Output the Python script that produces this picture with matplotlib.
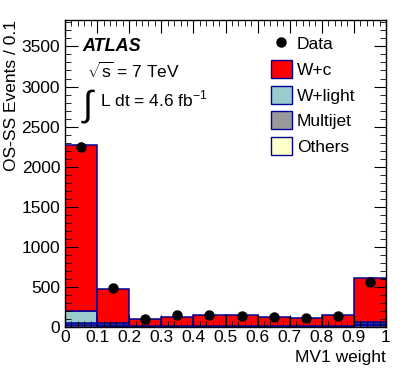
import matplotlib
matplotlib.use('Agg')
import matplotlib.pyplot as plt
from matplotlib.patches import Patch
from matplotlib.lines import Line2D
from matplotlib.ticker import MultipleLocator
import numpy as np

plt.rcParams['font.family'] = ['Liberation Sans', 'DejaVu Sans']
plt.rcParams['mathtext.fontset'] = 'custom'
plt.rcParams['mathtext.rm'] = 'Liberation Sans'

# MV1 weight bins
bin_lo = [0.0, 0.1, 0.2, 0.3, 0.4, 0.5, 0.6, 0.7, 0.8, 0.9]
others = [30, 15, 4, 4, 4, 4, 4, 4, 4, 20]
multijet = [25, 10, 3, 3, 3, 3, 3, 3, 3, 15]
wlight = [150, 25, 5, 6, 6, 6, 5, 5, 6, 30]
wc = [2060, 420, 88, 117, 132, 132, 113, 100, 132, 550]
data = [2250, 485, 105, 150, 145, 140, 125, 112, 137, 566]
data_err = [55, 25, 15, 15, 15, 15, 15, 15, 15, 28]

fig = plt.figure(figsize=(4.07, 3.91), dpi=100)
ax = fig.add_axes([65 / 407, 1 - 327 / 391, 321 / 407, 307 / 391])

x = np.array(bin_lo)
bottom = np.zeros(len(x))
edge = '#000099'
for vals, col in [(others, '#ffffcc'), (multijet, '#999999'),
                  (wlight, '#99cccc'), (wc, '#ff0000')]:
    ax.bar(x, vals, width=0.1, bottom=bottom, align='edge', color=col,
           edgecolor=edge, linewidth=1.1)
    bottom += np.array(vals)

ax.errorbar(x + 0.05, data, yerr=data_err, fmt='o', color='black',
            markersize=6.5, elinewidth=1.0, capsize=0)

ax.set_xlim(0, 1)
ax.set_ylim(0, 3830)
ax.xaxis.set_minor_locator(MultipleLocator(0.02))
ax.yaxis.set_major_locator(MultipleLocator(500))
ax.yaxis.set_minor_locator(MultipleLocator(100))
ax.set_xticks(np.arange(0, 1.01, 0.1))
ax.set_xticklabels(['0', '0.1', '0.2', '0.3', '0.4', '0.5', '0.6', '0.7', '0.8', '0.9', '1'])
ax.tick_params(which='both', direction='in', top=True, right=True, labelsize=12.5)
ax.tick_params(which='major', length=9)
ax.tick_params(which='minor', length=4.5)
ax.tick_params(axis='x', pad=2)
for s in ax.spines.values():
    s.set_linewidth(1.0)

ax.set_xlabel('MV1 weight', fontsize=12.5, loc='right', labelpad=4)
ax.set_ylabel('OS-SS Events / 0.1', fontsize=12.5, loc='top', labelpad=2)

ax.text(0.055, 0.9, 'ATLAS', transform=ax.transAxes, fontsize=13,
        fontweight='bold', style='italic')
ax.text(0.07, 0.812, r'$\sqrt{\mathrm{s}}$ = 7 TeV', transform=ax.transAxes, fontsize=12.5)
ax.text(0.05, 0.69, r'$\int$', transform=ax.transAxes, fontsize=26)
ax.text(0.11, 0.72, r'L dt = 4.6 fb$^{\mathrm{-1}}$', transform=ax.transAxes, fontsize=12.5)

handles = [Line2D([], [], marker='o', color='black', linestyle='none', markersize=6.5),
           Patch(facecolor='#ff0000', edgecolor=edge),
           Patch(facecolor='#99cccc', edgecolor=edge),
           Patch(facecolor='#999999', edgecolor=edge),
           Patch(facecolor='#ffffcc', edgecolor=edge)]
ax.legend(handles, ['Data', 'W+c', 'W+light', 'Multijet', 'Others'],
          loc='upper left', bbox_to_anchor=(0.62, 0.975), frameon=False,
          fontsize=12.5, handlelength=1.2, handleheight=1.2,
          handletextpad=0.3, labelspacing=0.45, borderaxespad=0)

plt.savefig('out.png', dpi=100)
plt.close()
